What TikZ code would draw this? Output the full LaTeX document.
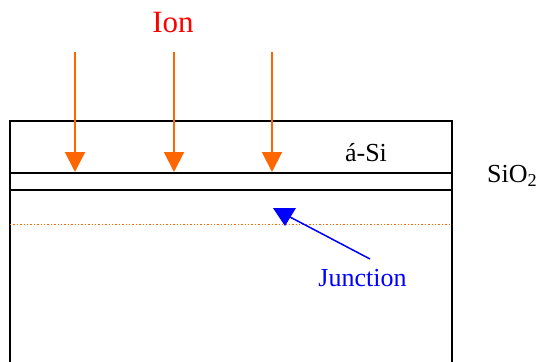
\documentclass[tikz,border=0pt]{standalone}
\usepackage{fontspec}
\setmainfont{Liberation Serif}
\usetikzlibrary{arrows.meta}
\definecolor{ionorange}{HTML}{FF6600}
\definecolor{junblue}{HTML}{0000FF}
\tikzset{
  ionarrow/.style={draw=ionorange, line width=2pt, -{Triangle[length=20pt,width=20pt]}, color=ionorange},
  layer/.style={draw=black, line width=1.4pt},
  lbl/.style={inner sep=0pt, anchor=base, font=\fontsize{26}{30}\selectfont},
}
\begin{document}
\begin{tikzpicture}[x=1pt,y=-1pt]
\useasboundingbox (0,0) rectangle (539,362);
% title
\node[lbl, text=red, font=\fontsize{31}{36}\selectfont] (ion) at (173,32) {Ion};
% substrate outline
\draw[layer] (10,362) -- (10,121) -- (452,121) -- (452,362);
\draw[layer, line width=2pt] (10,172.7) -- (452,172.7);
\draw[layer, line width=2pt] (10,190) -- (452,190);
% junction dotted line
\draw[ionorange, line width=1.4pt, dotted] (10,224.5) -- (452,224.5);
% labels
\node[lbl] (asi) at (366,161.5) {á-Si};
\node[lbl, anchor=base west] (sio) at (487,182.7) {SiO\textsubscript{2}};
\node[lbl, text=junblue] (jun) at (362.5,286.7) {Junction};
% ion arrows
\coordinate (s1) at (75,52);  \coordinate (e1) at (75,172);
\coordinate (s2) at (174,52); \coordinate (e2) at (174,172);
\coordinate (s3) at (272,52); \coordinate (e3) at (272,172);
\draw[ionarrow] (s1) -- (e1);
\draw[ionarrow] (s2) -- (e2);
\draw[ionarrow] (s3) -- (e3);
% junction arrow
\coordinate (jt) at (370,259);
\coordinate (jh) at (290,217);
\draw[junblue, line width=1.5pt] (jt) -- (jh);
\fill[junblue] (273,208) -- (296,208) -- (285,226) -- cycle;
\end{tikzpicture}
\end{document}
